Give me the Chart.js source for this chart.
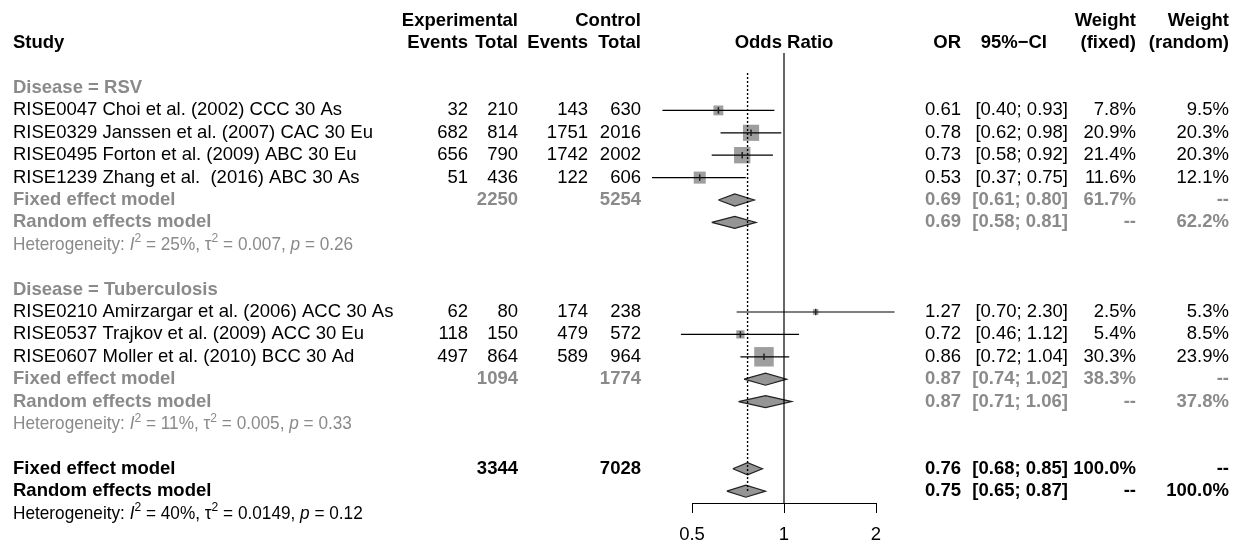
<!DOCTYPE html>
<html>
<head>
<meta charset="utf-8">
<script src="https://cdn.jsdelivr.net/npm/chart.js@4.4.1/dist/chart.umd.min.js"></script>
<style>
html,body{margin:0;padding:0;background:#fff;}
#wrap{width:1244px;height:548px;position:relative;}
</style>
</head>
<body>
<div id="wrap"><canvas id="c" width="1244" height="548"></canvas></div>
<script>
// ---------------- DATA ----------------
const GROUP_LABELS = ['Disease = RSV', 'Disease = Tuberculosis'];
const GROUP_ROWS = [0, 9];

const STUDY_LABELS = [
  'RISE0047 Choi et al. (2002) CCC 30 As',
  'RISE0329 Janssen et al. (2007) CAC 30 Eu',
  'RISE0495 Forton et al. (2009) ABC 30 Eu',
  'RISE1239 Zhang et al.  (2016) ABC 30 As',
  'RISE0210 Amirzargar et al. (2006) ACC 30 As',
  'RISE0537 Trajkov et al. (2009) ACC 30 Eu',
  'RISE0607 Moller et al. (2010) BCC 30 Ad'
];
const STUDY_ROWS = [1, 2, 3, 4, 10, 11, 12];
const EXP_EVENTS = [32, 682, 656, 51, 62, 118, 497];
const EXP_TOTAL = [210, 814, 790, 436, 80, 150, 864];
const CTRL_EVENTS = [143, 1751, 1742, 122, 174, 479, 589];
const CTRL_TOTAL = [630, 2016, 2002, 606, 238, 572, 964];
const STUDY_OR = [0.61, 0.78, 0.73, 0.53, 1.27, 0.72, 0.86];
const STUDY_LO = [0.40, 0.62, 0.58, 0.37, 0.70, 0.46, 0.72];
const STUDY_HI = [0.93, 0.98, 0.92, 0.75, 2.30, 1.12, 1.04];
const W_FIXED = [7.8, 20.9, 21.4, 11.6, 2.5, 5.4, 30.3];
const W_RANDOM = [9.5, 20.3, 20.3, 12.1, 5.3, 8.5, 23.9];

const SUMMARY_LABELS = ['Fixed effect model', 'Random effects model', 'Fixed effect model', 'Random effects model', 'Fixed effect model', 'Random effects model'];
const SUMMARY_ROWS = [5, 6, 13, 14, 17, 18];
const SUMMARY_OVERALL = [false, false, false, false, true, true];
const SUMMARY_EXP_TOTAL = [2250, null, 1094, null, 3344, null];
const SUMMARY_CTRL_TOTAL = [5254, null, 1774, null, 7028, null];
const SUMMARY_OR = [0.69, 0.69, 0.87, 0.87, 0.76, 0.75];
const SUMMARY_LO = [0.61, 0.58, 0.74, 0.71, 0.68, 0.65];
const SUMMARY_HI = [0.80, 0.81, 1.02, 1.06, 0.85, 0.87];
const SUMMARY_W_FIXED = ['61.7%', '--', '38.3%', '--', '100.0%', '--'];
const SUMMARY_W_RANDOM = ['--', '62.2%', '--', '37.8%', '--', '100.0%'];

const HET_ROWS = [7, 15, 19];
const HET_I2 = ['25', '11', '40'];
const HET_TAU2 = ['0.007', '0.005', '0.0149'];
const HET_P = ['0.26', '0.33', '0.12'];
const HET_OVERALL = [false, false, true];

const NULL_VALUE = 1;
const FIXED_LINE_VALUE = 0.76;
const X_TICKS = [0.5, 1, 2];

// ---------------- STYLE / LAYOUT ----------------
const FONT = '"Liberation Sans", Arial, Helvetica, sans-serif';
const FS = 18.5;
const GRAY = '#8a8a8a';
const BOX = '#9e9e9e';
const Y_MIN = -3.0357, Y_MAX = 18.527;
const DIAMOND_HALF = 0.27;
const COL = {study: 13, ev1: 468, tot1: 518, ev2: 588, tot2: 641, or: 961, ciHead: 1047, ci: 1068, wf: 1136, wr: 1229};

// ---------------- DATASETS ----------------
const datasets = [];
// reference lines
datasets.push({
  data: [{x: NULL_VALUE, y: -1.56}, {x: NULL_VALUE, y: Y_MAX}],
  showLine: true, borderColor: '#000', borderWidth: 1.2, pointRadius: 0, order: 0, clip: false
});
datasets.push({
  data: [{x: FIXED_LINE_VALUE, y: -0.67}, {x: FIXED_LINE_VALUE, y: 18}],
  showLine: true, borderColor: '#000', borderWidth: 1.4, borderDash: [2, 2], pointRadius: 0, order: 0, clip: false
});
// squares
datasets.push({
  data: STUDY_ROWS.map((r, i) => ({x: STUDY_OR[i], y: r})),
  pointStyle: 'rect',
  pointRadius: W_FIXED.map(w => 2.5 * Math.sqrt(w)),
  backgroundColor: BOX, borderColor: BOX, borderWidth: 0, order: 4, clip: false
});
// confidence intervals
STUDY_ROWS.forEach((r, i) => {
  datasets.push({
    data: [{x: STUDY_LO[i], y: r}, {x: STUDY_HI[i], y: r}],
    showLine: true, borderColor: '#000', borderWidth: 1.2, pointRadius: 0, order: 3, clip: false
  });
});
// estimate ticks
datasets.push({
  data: STUDY_ROWS.map((r, i) => ({x: STUDY_OR[i], y: r})),
  pointStyle: 'line', rotation: 90, pointRadius: 3.2,
  borderColor: '#222', borderWidth: 1.5, order: 2, clip: false
});
// diamonds
SUMMARY_ROWS.forEach((r, j) => {
  datasets.push({
    data: [
      {x: SUMMARY_LO[j], y: r},
      {x: SUMMARY_OR[j], y: r - DIAMOND_HALF},
      {x: SUMMARY_HI[j], y: r},
      {x: SUMMARY_OR[j], y: r + DIAMOND_HALF},
      {x: SUMMARY_LO[j], y: r}
    ],
    showLine: true, fill: 'shape', backgroundColor: '#959595',
    borderColor: '#222', borderWidth: 1.2, pointRadius: 0, order: 1, clip: false
  });
});

// ---------------- TEXT PLUGIN ----------------
function txt(ctx, s, x, y, align, bold, color) {
  ctx.font = (bold ? 'bold ' : '') + FS + 'px ' + FONT;
  ctx.textAlign = align;
  ctx.textBaseline = 'middle';
  ctx.fillStyle = color;
  ctx.fillText(s, x, y);
}
function het(ctx, x, y, i2, tau2, p, color) {
  ctx.save();
  ctx.translate(x, y);
  ctx.scale(0.93, 1);
  ctx.fillStyle = color;
  ctx.textAlign = 'left';
  ctx.textBaseline = 'middle';
  const parts = [['Heterogeneity: ', 'n'], ['I', 'i'], ['2', 's'], [' = ' + i2 + '%, ', 'n'], ['\u03c4', 'n'], ['2', 's'], [' = ' + tau2 + ', ', 'n'], ['p', 'i'], [' = ' + p, 'n']];
  let cx = 0;
  for (const [s, st] of parts) {
    ctx.font = (st === 'i' ? 'italic ' : '') + (st === 's' ? 13 : FS) + 'px ' + FONT;
    ctx.fillText(s, cx, st === 's' ? -6 : 0);
    cx += ctx.measureText(s).width;
  }
  ctx.restore();
}

const tablePlugin = {
  id: 'table',
  afterDraw(chart) {
    const ctx = chart.ctx;
    const ys = chart.scales.y;
    const Y = r => ys.getPixelForValue(r);
    ctx.save();
    // headers
    const h1 = Y(-3), h2 = Y(-2);
    txt(ctx, 'Experimental', COL.tot1, h1, 'right', true, '#000');
    txt(ctx, 'Control', COL.tot2, h1, 'right', true, '#000');
    txt(ctx, 'Weight', COL.wf, h1, 'right', true, '#000');
    txt(ctx, 'Weight', COL.wr, h1, 'right', true, '#000');
    txt(ctx, 'Study', COL.study, h2, 'left', true, '#000');
    txt(ctx, 'Events', COL.ev1, h2, 'right', true, '#000');
    txt(ctx, 'Total', COL.tot1, h2, 'right', true, '#000');
    txt(ctx, 'Events', COL.ev2, h2, 'right', true, '#000');
    txt(ctx, 'Total', COL.tot2, h2, 'right', true, '#000');
    txt(ctx, 'Odds Ratio', chart.scales.x.getPixelForValue(NULL_VALUE), h2, 'center', true, '#000');
    txt(ctx, 'OR', COL.or, h2, 'right', true, '#000');
    txt(ctx, '95%\u2212CI', COL.ciHead, h2, 'right', true, '#000');
    txt(ctx, '(fixed)', COL.wf, h2, 'right', true, '#000');
    txt(ctx, '(random)', COL.wr, h2, 'right', true, '#000');
    // groups
    GROUP_LABELS.forEach((g, i) => txt(ctx, g, COL.study, Y(GROUP_ROWS[i]), 'left', true, GRAY));
    // studies
    STUDY_LABELS.forEach((s, i) => {
      const y = Y(STUDY_ROWS[i]);
      txt(ctx, s, COL.study, y, 'left', false, '#000');
      txt(ctx, String(EXP_EVENTS[i]), COL.ev1, y, 'right', false, '#000');
      txt(ctx, String(EXP_TOTAL[i]), COL.tot1, y, 'right', false, '#000');
      txt(ctx, String(CTRL_EVENTS[i]), COL.ev2, y, 'right', false, '#000');
      txt(ctx, String(CTRL_TOTAL[i]), COL.tot2, y, 'right', false, '#000');
      txt(ctx, STUDY_OR[i].toFixed(2), COL.or, y, 'right', false, '#000');
      txt(ctx, '[' + STUDY_LO[i].toFixed(2) + '; ' + STUDY_HI[i].toFixed(2) + ']', COL.ci, y, 'right', false, '#000');
      txt(ctx, W_FIXED[i].toFixed(1) + '%', COL.wf, y, 'right', false, '#000');
      txt(ctx, W_RANDOM[i].toFixed(1) + '%', COL.wr, y, 'right', false, '#000');
    });
    // summaries
    SUMMARY_LABELS.forEach((s, j) => {
      const y = Y(SUMMARY_ROWS[j]);
      const c = SUMMARY_OVERALL[j] ? '#000' : GRAY;
      txt(ctx, s, COL.study, y, 'left', true, c);
      if (SUMMARY_EXP_TOTAL[j] !== null) txt(ctx, String(SUMMARY_EXP_TOTAL[j]), COL.tot1, y, 'right', true, c);
      if (SUMMARY_CTRL_TOTAL[j] !== null) txt(ctx, String(SUMMARY_CTRL_TOTAL[j]), COL.tot2, y, 'right', true, c);
      txt(ctx, SUMMARY_OR[j].toFixed(2), COL.or, y, 'right', true, c);
      txt(ctx, '[' + SUMMARY_LO[j].toFixed(2) + '; ' + SUMMARY_HI[j].toFixed(2) + ']', COL.ci, y, 'right', true, c);
      txt(ctx, SUMMARY_W_FIXED[j], COL.wf, y, 'right', true, c);
      txt(ctx, SUMMARY_W_RANDOM[j], COL.wr, y, 'right', true, c);
    });
    // heterogeneity
    HET_ROWS.forEach((r, k) => het(ctx, COL.study, Y(r), HET_I2[k], HET_TAU2[k], HET_P[k], HET_OVERALL[k] ? '#000' : GRAY));
    ctx.restore();
  }
};

new Chart(document.getElementById('c'), {
  type: 'scatter',
  data: {datasets},
  options: {
    responsive: false,
    animation: false,
    devicePixelRatio: 1,
    events: [],
    layout: {padding: {left: 692, right: 368, top: 20, bottom: 0}},
    plugins: {legend: {display: false}, tooltip: {enabled: false}},
    scales: {
      x: {
        type: 'logarithmic',
        position: 'bottom',
        min: 0.5, max: 2,
        afterBuildTicks: s => { s.ticks = X_TICKS.map(v => ({value: v})); },
        afterFit: s => { s.height = 45; },
        border: {display: true, color: '#000', width: 1},
        grid: {display: true, drawOnChartArea: false, drawTicks: true, tickLength: 10, color: '#000', lineWidth: 1},
        ticks: {
          autoSkip: false, maxRotation: 0, padding: 11, color: '#000',
          font: {family: FONT, size: FS},
          callback: v => String(v)
        }
      },
      y: {type: 'linear', reverse: true, min: Y_MIN, max: Y_MAX, display: false}
    }
  },
  plugins: [tablePlugin]
});
</script>
</body>
</html>
